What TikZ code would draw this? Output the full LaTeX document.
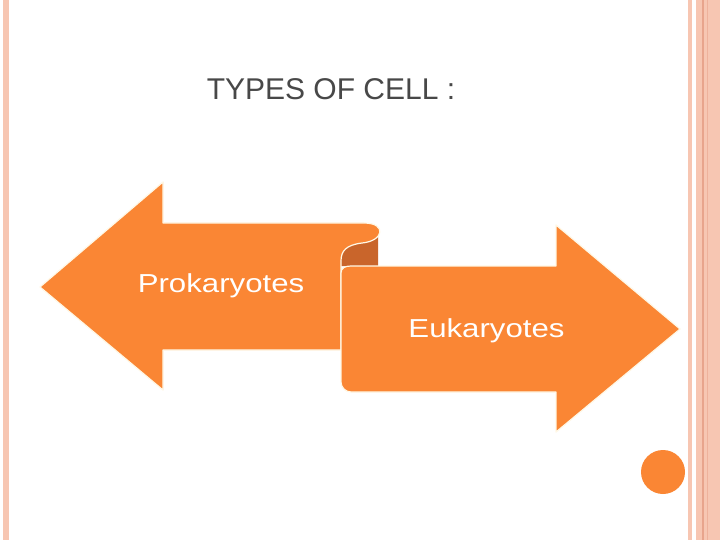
\documentclass[tikz,border=0pt]{standalone}
\usepackage{fontspec}
\setmainfont{Liberation Sans}
\definecolor{slideOrange}{RGB}{250,134,52}
\definecolor{slideRust}{RGB}{201,101,43}
\definecolor{slidePeach}{RGB}{247,198,178}
\definecolor{slidePeachDark}{RGB}{232,164,140}
\definecolor{slideCream}{RGB}{255,248,230}
\definecolor{slideGray}{RGB}{72,72,72}
\usetikzlibrary{positioning}

\begin{document}
\begin{tikzpicture}[x=1pt, y=-1pt,
  shapefill/.style={fill=slideOrange, draw=slideCream, line width=1.2pt, line join=round},
  celltext/.style={text=white, font=\fontsize{26}{30}\selectfont, inner sep=0pt, anchor=base},
  slidetitle/.style={text=slideGray, font=\fontsize{30}{36}\selectfont, inner sep=0pt, anchor=base}
]
  \fill[white] (0,0) rectangle (720,540);
  \useasboundingbox (0,0) rectangle (720,540);

  % slide border
  \fill[slidePeach] (3,0) rectangle (9,540);
  \fill[slidePeach] (688,0) rectangle (692,540);
  \fill[slidePeach] (696,0) rectangle (720,540);
  \fill[slidePeachDark] (702,0) rectangle (703.5,540);
  \fill[slidePeachDark!60!slidePeach] (707,0) rectangle (708,540);

  \node[slidetitle] (title) at (331,100) {TYPES OF CELL :};

  % back of the scroll
  \fill[slideRust] (341,238) -- (378,230) -- (378,266) -- (341,266) -- cycle;

  % left arrow
  \path[shapefill] (40,287) -- (163,182) -- (163,223) -- (364,223)
    .. controls (387,223) and (384,241) .. (362,243)
    .. controls (346,245) and (341,251) .. (341,261)
    -- (341,350) -- (163,350) -- (163,390) -- cycle;

  % right arrow
  \path[shapefill] (341,273) [rounded corners=10pt] -- (341,392) [sharp corners] -- (556,392)
    -- (556,432) -- (680,329) -- (556,225) -- (556,266) -- (351,266)
    .. controls (345,266) and (341,268) .. (341,273) -- cycle;

  \node[celltext] (prok) at (221,292) {\scalebox{1.2}[1]{Prokaryotes}};
  \node[celltext] (euk) at (486.5,337) {\scalebox{1.2}[1]{Eukaryotes}};

  % corner dot
  \fill[slideOrange] (663,472) circle (22pt);
\end{tikzpicture}
\end{document}
